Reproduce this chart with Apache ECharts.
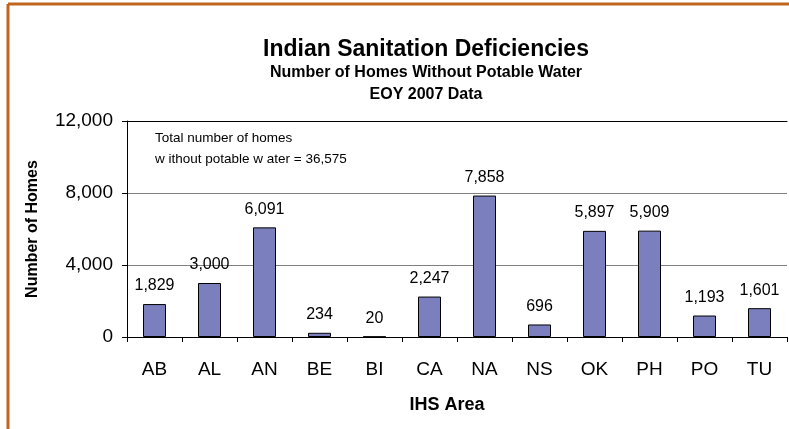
<!DOCTYPE html>
<html>
<head>
<meta charset="utf-8">
<script src="https://cdn.jsdelivr.net/npm/echarts@6/dist/echarts.min.js"></script>
<style>
  html, body { margin: 0; padding: 0; background: #fff; }
  #chart { width: 789px; height: 429px; }
</style>
</head>
<body>
<div id="chart"></div>
<script>
// IHS areas and homes without potable water (EOY 2007)
const areas = ['AB', 'AL', 'AN', 'BE', 'BI', 'CA', 'NA', 'NS', 'OK', 'PH', 'PO', 'TU']
const homes = [1829, 3000, 6091, 234, 20, 2247, 7858, 696, 5897, 5909, 1193, 1601]
const yTicks = [0, 4000, 8000, 12000]

const font = 'Liberation Sans, Arial, sans-serif'
const chart = echarts.init(document.getElementById('chart'))

chart.setOption({
  animation: false,
  title: [
    {
      text: 'Indian Sanitation Deficiencies',
      left: 421, top: 33, textAlign: 'center',
      textStyle: { fontFamily: font, fontSize: 23, fontWeight: 'bold', color: '#000' }
    },
    {
      text: 'Number of Homes Without Potable Water',
      left: 421, top: 60, textAlign: 'center',
      textStyle: { fontFamily: font, fontSize: 16, fontWeight: 'bold', color: '#000' }
    },
    {
      text: 'EOY 2007 Data',
      left: 421, top: 82, textAlign: 'center',
      textStyle: { fontFamily: font, fontSize: 16, fontWeight: 'bold', color: '#000' }
    }
  ],
  graphic: [
    // orange frame (left + top)
    { type: 'line', shape: { x1: 8, y1: 4, x2: 8, y2: 429 }, style: { stroke: '#c2661f', lineWidth: 3 } },
    { type: 'line', shape: { x1: 8, y1: 4, x2: 789, y2: 4 }, style: { stroke: '#c2661f', lineWidth: 3 } },
    {
      type: 'text', left: 155, top: 128,
      style: {
        text: 'Total number of homes\nw ithout potable w ater = 36,575',
        fontFamily: font, fontSize: 13.5, lineHeight: 21, fill: '#000'
      }
    }
  ],
  grid: { left: 127, right: 2, top: 121, bottom: 92 },
  xAxis: [
    {
      type: 'category',
      data: areas,
      name: 'IHS Area',
      nameLocation: 'middle',
      nameGap: 59,
      nameTextStyle: { fontFamily: font, fontSize: 18, fontWeight: 'bold', color: '#000', padding: [0, 20, 0, 0] },
      axisLine: { lineStyle: { color: '#000', width: 1 } },
      axisTick: { show: true, length: 5, lineStyle: { color: '#000' } },
      axisLabel: { fontFamily: font, fontSize: 19, color: '#000', margin: 23 }
    },
    {
      type: 'category',
      data: areas,
      position: 'top',
      axisLine: { show: true, lineStyle: { color: '#000', width: 1 } },
      axisTick: { show: false },
      axisLabel: { show: false }
    }
  ],
  yAxis: {
    type: 'value',
    min: yTicks[0],
    max: yTicks[yTicks.length - 1],
    interval: yTicks[1] - yTicks[0],
    name: 'Number of Homes',
    nameLocation: 'middle',
    nameGap: 86,
    nameTextStyle: { fontFamily: font, fontSize: 16, fontWeight: 'bold', color: '#000' },
    axisLine: { show: true, lineStyle: { color: '#000', width: 1 } },
    axisTick: { show: true, length: 5, lineStyle: { color: '#000' } },
    axisLabel: {
      fontFamily: font, fontSize: 19, color: '#000', margin: 14,
      formatter: (v) => v.toLocaleString('en-US')
    },
    splitLine: { lineStyle: { color: '#808080', width: 1 } }
  },
  series: [
    {
      type: 'bar',
      data: homes,
      barWidth: 23,
      itemStyle: { color: '#7b7fbd', borderColor: '#000', borderWidth: 1 },
      label: {
        show: true,
        position: 'top',
        distance: 10,
        fontFamily: font,
        fontSize: 16,
        color: '#000',
        formatter: (p) => p.value.toLocaleString('en-US')
      }
    }
  ]
})
</script>
</body>
</html>
